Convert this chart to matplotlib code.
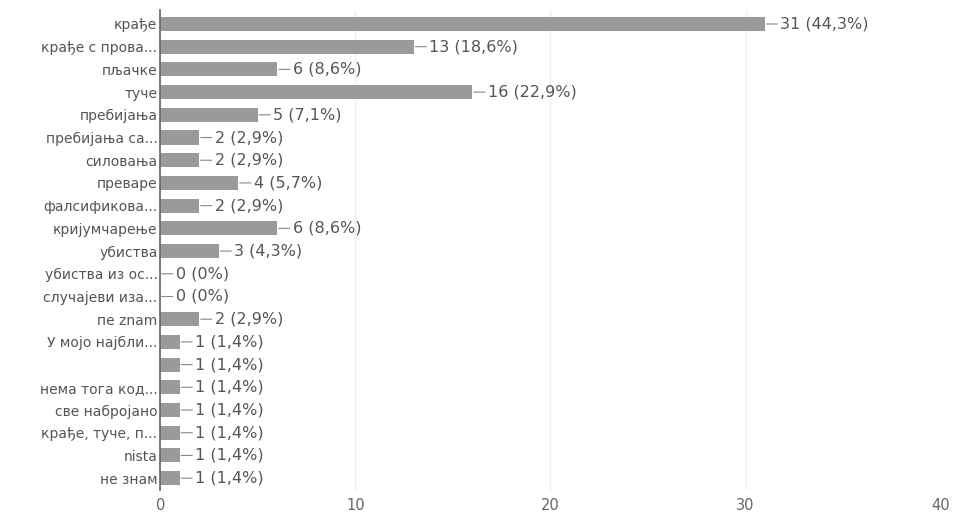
import matplotlib.pyplot as plt

labels = [
    "крађе", "крађе с прова...", "пљачке", "туче", "пребијања",
    "пребијања са...", "силовања", "преваре", "фалсификова...",
    "кријумчарење", "убиства", "убиства из ос...", "случајеви иза...",
    "пе znam", "У мојо најбли...", "", "нема тога код...",
    "све набројано", "крађе, туче, п...", "nista", "не знам",
]
counts = [31, 13, 6, 16, 5, 2, 2, 4, 2, 6, 3, 0, 0, 2, 1, 1, 1, 1, 1, 1, 1]
percents = ["44,3", "18,6", "8,6", "22,9", "7,1", "2,9", "2,9", "5,7", "2,9",
            "8,6", "4,3", "0", "0", "2,9", "1,4", "1,4", "1,4", "1,4", "1,4",
            "1,4", "1,4"]
xticks = [0, 10, 20, 30, 40]

plt.rcParams["font.family"] = ["DejaVu Sans"]

fig = plt.figure(figsize=(9.54, 5.18), dpi=100)
ax = fig.add_axes([0.168, 0.055, 0.818, 0.925])

ypos = list(range(len(labels)))
ax.barh(ypos, counts, height=0.62, color="#9a9a9a")

for y, c, p in zip(ypos, counts, percents):
    ax.annotate(f"{c} ({p}%)", xy=(c, y), xytext=(11, 0),
                textcoords="offset points", va="center", ha="left",
                fontsize=11.5, color="#555555",
                arrowprops=dict(arrowstyle="-", color="#888888", lw=0.8,
                                shrinkA=0, shrinkB=1))

ax.set_yticks(ypos)
ax.set_yticklabels(labels, fontsize=10, color="#555555")
ax.set_ylim(len(labels) - 0.5, -0.6)
ax.set_xlim(0, 40)
ax.set_xticks(xticks)
ax.set_xticklabels([str(t) for t in xticks], fontsize=10.5, color="#666666")
ax.tick_params(axis="y", length=0, pad=2)
ax.tick_params(axis="x", length=0, pad=6)

ax.grid(axis="x", color="#eeeeee", lw=1)
ax.set_axisbelow(True)
for side in ["top", "right", "bottom"]:
    ax.spines[side].set_visible(False)
ax.spines["left"].set_color("#666666")
ax.spines["left"].set_linewidth(1.2)

fig.savefig("out.png", dpi=100)
plt.close(fig)
